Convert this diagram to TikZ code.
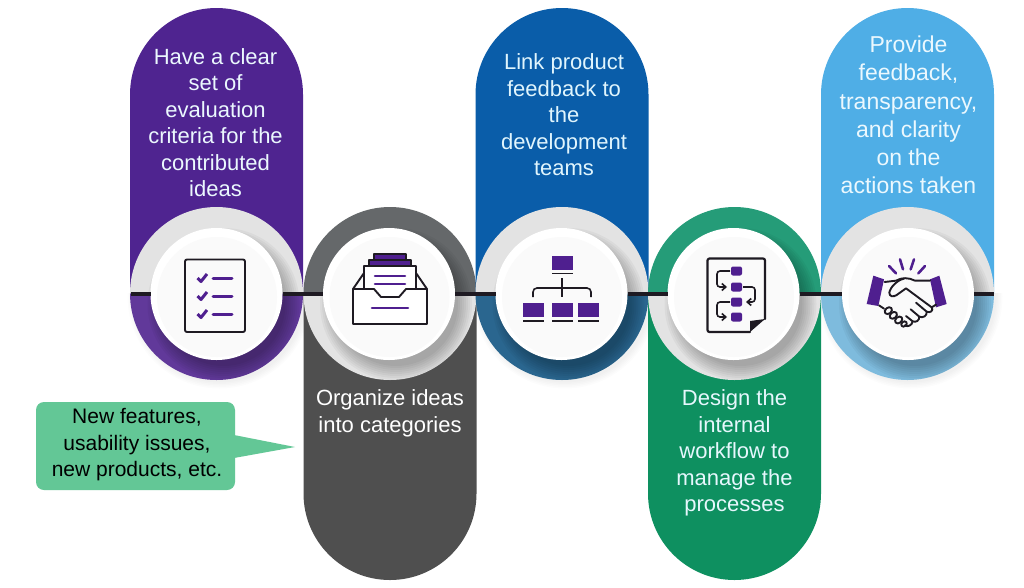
\documentclass[tikz,border=0pt]{standalone}
\usepackage{fontspec}
\setmainfont{Liberation Sans}
\definecolor{cpurple}{HTML}{4F2490}
\definecolor{cpurplel}{HTML}{61399A}
\definecolor{cgray}{HTML}{4F4F4F}
\definecolor{cgrayl}{HTML}{65686A}
\definecolor{cblue}{HTML}{0A5DA9}
\definecolor{cbluel}{HTML}{2A668F}
\definecolor{cgreen}{HTML}{0E9060}
\definecolor{cgreenl}{HTML}{259C78}
\definecolor{csky}{HTML}{4FAEE6}
\definecolor{cskyl}{HTML}{7EBBDD}
\definecolor{cring}{HTML}{E3E3E3}
\definecolor{ccall}{HTML}{63C796}
\definecolor{cink}{HTML}{1E1A22}
\definecolor{cicon}{HTML}{4F1F8F}
\usetikzlibrary{arrows.meta}
\tikzset{
  x=1pt,y=-1pt,
  disc/.style={circle,fill=white,minimum size=132pt,inner sep=0pt,outer sep=0pt},
  link/.style={draw=cink,line width=4pt},
  label/.style={text=white,align=center,font=\fontsize{22}{26.5}\selectfont,inner sep=0pt},
  callout/.style={text=black,align=center,font=\fontsize{21}{26.5}\selectfont,inner sep=0pt},
  ink/.style={draw=cink,line width=1.9pt,line join=round,line cap=round,fill=none},
  bar/.style={draw=cicon,line width=3pt,line cap=round},
  tile/.style={fill=cicon,draw=none},
  arr/.style={draw=cink,line width=1.6pt,rounded corners=3pt,-{Straight Barb[length=4pt,width=7pt]}},
}
\newcommand{\pillup}[4]{% cx, top, pill colour, lower ring colour
  \fill[#3] (#1-86.5,293.5) -- (#1-86.5,#2+86.5) arc[start angle=180,end angle=360,x radius=86.5,y radius=86.5] -- (#1+86.5,293.5) -- cycle;
  \fill[cring] (#1-86.5,293.5) arc[start angle=180,end angle=360,x radius=86.5,y radius=86.5] -- cycle;
  \fill[#4] (#1-86.5,293.5) arc[start angle=180,end angle=360,x radius=86.5,y radius=-86.5] -- cycle;
}
\newcommand{\pilldown}[4]{% cx, bottom, pill colour, upper ring colour
  \fill[#3] (#1-86.5,293.5) -- (#1-86.5,#2-86.5) arc[start angle=180,end angle=360,x radius=86.5,y radius=-86.5] -- (#1+86.5,293.5) -- cycle;
  \fill[cring] (#1-86.5,293.5) arc[start angle=180,end angle=360,x radius=86.5,y radius=-86.5] -- cycle;
  \fill[#4] (#1-86.5,293.5) arc[start angle=180,end angle=360,x radius=86.5,y radius=86.5] -- cycle;
}
\newcommand{\dropshade}[2]{% disc cx, ring cx
  \begin{scope}
    \clip (#2,293.5) circle[radius=86.5];
    \foreach \r in {62,64,...,76}{\fill[black,opacity=.035] (#1+7,304) circle[radius=\r];}
  \end{scope}
}
\newcommand{\outershade}[1]{%
  \begin{scope}
    \clip (#1-100,293.5) rectangle (#1+100,400);
    \foreach \r in {86,87.5,...,92}{\fill[black,opacity=.012] (#1+3,296.5) circle[radius=\r];}
  \end{scope}
}
\begin{document}
\begin{tikzpicture}
\useasboundingbox (0,0) rectangle (1024,587);
\fill[white] (0,0) rectangle (1024,587);
\outershade{216.5}\outershade{562}\outershade{907.5}
\pillup{216.5}{8}{cpurple}{cpurplel}
\pilldown{390}{580}{cgray}{cgrayl}
\pillup{562}{8}{cblue}{cbluel}
\pilldown{734.5}{580}{cgreen}{cgreenl}
\pillup{907.5}{8}{csky}{cskyl}
% disc shadows on the rings
\dropshade{216.5}{216.5}
\dropshade{389}{390}
\dropshade{561.5}{562}
\dropshade{733.5}{734.5}
\dropshade{908}{907.5}
% discs
\node[disc] (d1) at (216.5,294) {};
\node[disc] (d2) at (389,294) {};
\node[disc] (d3) at (561.5,294) {};
\node[disc] (d4) at (733.5,294) {};
\node[disc] (d5) at (908,294) {};
\foreach \c in {216.5,389,561.5,733.5,908}{\fill[black!2] (\c+.5,297) circle[radius=60];}
% connectors
\coordinate (lstart) at (130.5,294);
\coordinate (lend) at (994,294);
\draw[link] (lstart) -- (d1);
\draw[link] (d1) -- (d2);
\draw[link] (d2) -- (d3);
\draw[link] (d3) -- (d4);
\draw[link] (d4) -- (d5);
\draw[link] (d5) -- (lend);
% texts
\node[label,text=white!92!cyan] (t1) at (215.5,122.5) {Have a clear\\set of\\evaluation\\criteria for the\\contributed\\ideas};
\node[label] (t2) at (390,413.5) {Organize ideas\\into categories};
\node[label,text=white!88!cyan] (t3) at (564,115) {Link product\\feedback to\\the\\development\\teams};
\node[label,text=white!90!cyan] (t4) at (734.5,453) {Design the\\internal\\workflow to\\manage the\\processes};
\node[label,text=white!92!cyan,font=\fontsize{23}{28.2}\selectfont] (t5) at (908.5,115) {Provide\\feedback,\\transparency,\\and clarity\\on the\\actions taken};
% callout
\fill[ccall,rounded corners=8pt] (36,402) rectangle (235,490);
\fill[ccall] (234,435) -- (295,447) -- (234,458) -- cycle;
\node[callout] (c1) at (137,445) {New features,\\usability issues,\\new products, etc.};
% icon 1
\draw[ink,rounded corners=2pt] (185,259.5) rectangle (245,332);
\foreach \y in {278,296,314}{
  \draw[cicon,line width=3pt,line join=round] (197.5,\y) -- (201,\y+3.5) -- (207,\y-4);
  \draw[bar] (213,\y) -- (232,\y);
}
% icon 2
\fill[cicon] (374,254) rectangle (406,262);
\fill[cicon] (369,260) rectangle (411,268);
\draw[ink,line width=1.5pt] (374,260) -- (374,254) -- (406,254) -- (406,260) (369,266) -- (369,260) -- (411,260) -- (411,266);
\fill[white] (364,266) rectangle (416,296);
\draw[ink] (364,289) -- (364,266) -- (416,266) -- (416,289);
\draw[ink,fill=white] (353,289) -- (374,289) -- (381,297) -- (399,297) -- (406,289) -- (427,289) -- (427,324) -- (353,324) -- cycle;
\draw[ink] (353,289) -- (364,273) (427,289) -- (416,273);
\draw[bar,line width=2.6pt] (375,276) -- (405,276) (375,284) -- (405,284) (372,308) -- (408,308);
% icon 3
\fill[tile] (552,256) rectangle (573,270);
\fill[tile] (523,303) rectangle (544,317);
\fill[tile] (552,303) rectangle (573,317);
\fill[tile] (578,303) rectangle (599,317);
\draw[cink,line width=1.6pt] (552,273.5) -- (573,273.5) (523,321) -- (544,321) (552,321) -- (573,321) (578,321) -- (599,321);
\draw[cink,line width=1.6pt] (562,278) -- (562,297);
\draw[cink,line width=1.6pt,rounded corners=4pt] (533,297) -- (533,288) -- (591,288) -- (591,297);
% icon 4
\draw[ink,line width=2.2pt,rounded corners=2pt] (750,332) -- (707.5,332) -- (707.5,258.5) -- (765,258.5) -- (765,319);
\fill[cink] (765,319) -- (750,332) -- (750,321) -- cycle;
\foreach \y in {271,287,302,317}{\fill[tile,rounded corners=2pt] (731,\y-4.5) rectangle (742,\y+4.5);}
\draw[arr] (730,271) -- (717,271) -- (717,287) -- (727,287);
\draw[arr] (743,287) -- (755,287) -- (755,302) -- (746,302);
\draw[arr] (730,302) -- (717,302) -- (717,317) -- (727,317);
% icon 5 (crop coordinates, scale 1/3)
\begin{scope}[shift={(810,200)},x=.333333pt,y=-.333333pt]
  \fill[cicon] (190,227) -- (222,238) -- (205,318) -- (170,312) -- cycle;
  \fill[cicon] (360,238) -- (388,227) -- (410,312) -- (378,322) -- cycle;
  \draw[cicon,line width=2.6pt,line cap=round] (237,198) -- (258,220) (270,178) -- (279,208) (312,178) -- (302,208) (345,198) -- (325,220);
  \begin{scope}[line width=1.9pt,draw=cink,line cap=round,line join=round]
    \draw (224,246) -- (258,242) .. controls (275,232) and (295,232) .. (315,242) -- (360,242);
    \draw (282,236) .. controls (262,240) and (240,262) .. (238,278) .. controls (238,290) and (250,292) .. (260,285) -- (288,265) -- (365,322) .. controls (372,332) and (360,340) .. (350,335) -- (318,308);
    \draw (365,322) -- (378,314);
    \draw (350,335) .. controls (352,348) and (338,355) .. (328,350) -- (302,328);
    \draw (328,350) .. controls (328,362) and (318,368) .. (308,364) -- (288,348);
    \draw (308,364) .. controls (306,376) and (294,382) .. (284,376);
    \draw (207,316) -- (222,326);
    \draw[rotate around={40:(235,332)}] (235,332) ellipse[x radius=12,y radius=9];
    \draw[rotate around={40:(250,346)}] (250,346) ellipse[x radius=12,y radius=9];
    \draw[rotate around={40:(266,360)}] (266,360) ellipse[x radius=12,y radius=9];
    \draw[rotate around={40:(282,372)}] (282,372) ellipse[x radius=9,y radius=7];
  \end{scope}
\end{scope}
\end{tikzpicture}
\end{document}
